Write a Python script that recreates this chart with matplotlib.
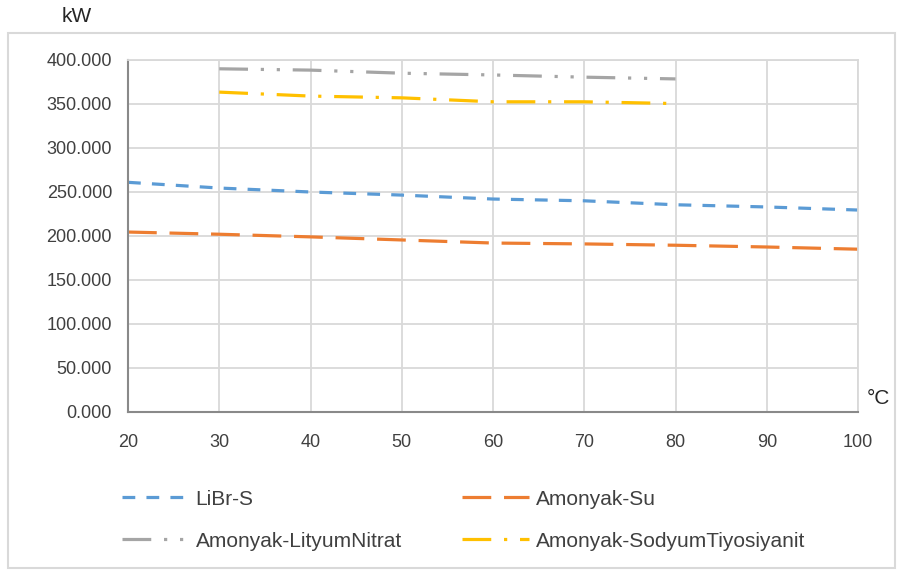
import matplotlib
matplotlib.use('Agg')
import matplotlib.pyplot as plt
from matplotlib.patches import Rectangle

plt.rcParams['font.family'] = ['Liberation Sans', 'DejaVu Sans']

# temperature (°C) and power (kW) per working pair
temp_full = [20, 30, 40, 50, 60, 70, 80, 90, 100]
temp_part = [30, 40, 50, 60, 70, 80]
libr_s = [261, 254.5, 250, 246.5, 242, 240, 235.5, 233, 229.5]
amonyak_su = [204.5, 202, 199, 195.5, 192, 191, 189.5, 187.5, 185]
amonyak_lino3 = [390, 388.5, 385, 383, 380.5, 378.5]
amonyak_nascn = [363.5, 359, 357, 352.5, 352.5, 350.5]

labels = ['LiBr-S', 'Amonyak-Su', 'Amonyak-LityumNitrat', 'Amonyak-SodyumTiyosiyanit']
colors = ['#5B9BD5', '#ED7D31', '#A5A5A5', '#FFC000']
dashes = [(4, 3.5), (9, 4), (9, 4, 1, 4, 1, 4), (9, 4, 1, 4)]
yticks = [0, 50, 100, 150, 200, 250, 300, 350, 400]
xticks = [20, 30, 40, 50, 60, 70, 80, 90, 100]

fig = plt.figure(figsize=(8.97, 5.72), dpi=100)
ax = fig.add_axes([128/897, 1-412/572, 730/897, 352/572])

series = [(temp_full, libr_s), (temp_full, amonyak_su),
          (temp_part, amonyak_lino3), (temp_part, amonyak_nascn)]
handles = []
for (xs, ys), lab, c, d in zip(series, labels, colors, dashes):
    ln, = ax.plot(xs, ys, color=c, lw=2.3, dashes=d, dash_capstyle='butt', label=lab)
    handles.append(ln)

ax.set_xlim(20, 100)
ax.set_ylim(0, 400)
ax.set_xticks(xticks)
ax.set_yticks(yticks)
ax.set_yticklabels(['%.3f' % v for v in yticks])
ax.grid(True, color='#d9d9d9', lw=1.3)
ax.set_axisbelow(True)
ax.tick_params(length=0, labelsize=13, colors='#404040')
ax.tick_params(axis='x', pad=16)
ax.tick_params(axis='y', pad=11.5)
for s in ['top', 'right']:
    ax.spines[s].set_color('#d9d9d9')
    ax.spines[s].set_linewidth(1.3)
for s in ['left', 'bottom']:
    ax.spines[s].set_color('#898989')
    ax.spines[s].set_linewidth(1.5)

# unit labels
fig.text(62/897, 1-16/572, 'kW', fontsize=15, color='#262626', va='center')
fig.text(867/897, 1-398/572, '°C', fontsize=15, color='#262626', va='center')

# chart frame
fig.patches.append(Rectangle((8/897, 4/572), 887/897, 535/572, transform=fig.transFigure,
                             fill=False, ec='#d9d9d9', lw=1.5))

# legend, filled row by row: LiBr-S | Amonyak-Su, then the two salt pairs
order = [0, 2, 1, 3]
fig.legend(handles=[handles[i] for i in order], loc='upper left',
           bbox_to_anchor=(103/897, 1-471/572),
           ncol=2, frameon=False, fontsize=15, handlelength=3.2, handletextpad=0.34,
           columnspacing=2.9, labelspacing=1.1, labelcolor='#404040')

plt.savefig('out.png', dpi=100)
